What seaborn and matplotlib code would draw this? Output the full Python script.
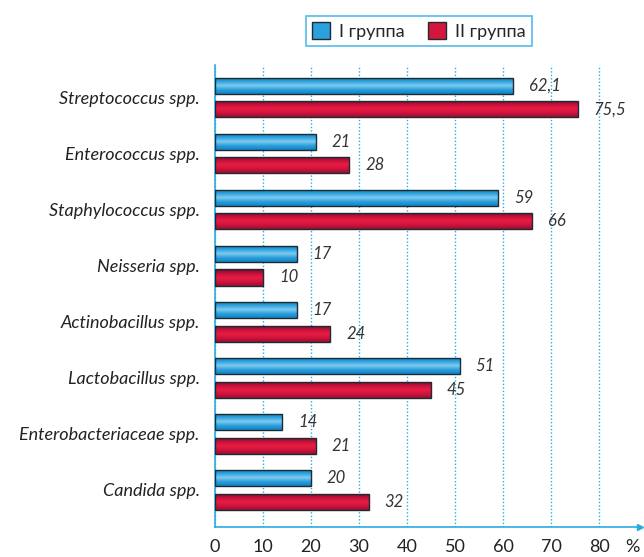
import numpy as np
import pandas as pd
import seaborn as sns
import matplotlib.pyplot as plt
from matplotlib.colors import LinearSegmentedColormap
from matplotlib.patches import Patch

categories = ["Streptococcus spp.", "Enterococcus spp.", "Staphylococcus spp.",
              "Neisseria spp.", "Actinobacillus spp.", "Lactobacillus spp.",
              "Enterobacteriaceae spp.", "Candida spp."]
group1 = [62.1, 21, 59, 17, 17, 51, 14, 20]
group2 = [75.5, 28, 66, 10, 24, 45, 21, 32]
series = ["I группа", "II группа"]
xticks = [0, 10, 20, 30, 40, 50, 60, 70, 80]

sns.set_theme(style="white")
plt.rcParams['font.family'] = ['Lato', 'DejaVu Sans']

df = pd.DataFrame({
    "category": categories * 2,
    "value": group1 + group2,
    "group": [series[0]] * len(categories) + [series[1]] * len(categories),
})

AX_C = "#29abe2"
BLUE = "#2aa0dc"
RED = "#d4163e"

fig = plt.figure(figsize=(6.44, 5.57), dpi=100)
ax = fig.add_axes([215/644, 1-527/557, (640-215)/644, (527-65)/557])

sns.barplot(data=df, y="category", x="value", hue="group", orient="h",
            palette=[BLUE, RED], width=0.84, gap=0.32, edgecolor="#1f2a33",
            linewidth=1.0, ax=ax, legend=False, zorder=3)

# gradient fill
cmaps = [
    LinearSegmentedColormap.from_list("b", ["#0b78bb", "#2ba3e0", "#7fcbef", "#2a9edb", "#1283c6"]),
    LinearSegmentedColormap.from_list("r", ["#6e0c2a", "#c0123a", "#e91c44", "#d0143c", "#9a0f33"]),
]
grad = np.linspace(0, 1, 64).reshape(-1, 1)
for ci, cont in enumerate(ax.containers):
    for p in cont.patches:
        x0, y0 = p.get_x(), p.get_y()
        w, h = p.get_width(), p.get_height()
        im = ax.imshow(grad, cmap=cmaps[ci], aspect="auto", origin="upper",
                       extent=(x0, x0 + w, y0 + h, y0), zorder=3.5,
                       interpolation="bilinear")
        im.set_clip_path(p)
        p.set_facecolor("none")
        p.set_zorder(4)

# value labels
for ci, cont in enumerate(ax.containers):
    vals = [group1, group2][ci]
    for p, v in zip(cont.patches, vals):
        txt = f"{v:g}".replace(".", ",")
        ax.text(p.get_x() + p.get_width() + 3.3, p.get_y() + p.get_height() / 2, txt,
                ha="left", va="center", fontsize=12, style="italic", color="#333333")

ax.set_xlim(0, 88.5)
ax.set_ylim(7.66, -0.58)
ax.set_xticks(xticks)
ax.set_xticklabels([str(t) for t in xticks], fontsize=13, color="#222222")
ax.set_xlabel("")
ax.set_ylabel("")
ax.tick_params(axis="y", length=0, labelsize=13, pad=11)
for lab in ax.get_yticklabels():
    lab.set_style("italic")
    lab.set_color("#222222")
ax.tick_params(axis="x", direction="out", length=4, width=1, color=AX_C, pad=5)

ax.grid(axis="x", linestyle=(0, (1, 1.5)), color=AX_C, linewidth=1.0, zorder=0)
ax.grid(axis="y", visible=False)
ax.set_axisbelow(True)

for s in ["top", "right"]:
    ax.spines[s].set_visible(False)
for s in ["left", "bottom"]:
    ax.spines[s].set_color(AX_C)
    ax.spines[s].set_linewidth(1.2)
ax.plot(1, 0, ">", transform=ax.transAxes, clip_on=False, color=AX_C, markersize=5)
lbl0 = ax.get_xticklabels()[0]
ax.annotate("%", xy=(632/644, 0), xycoords=("figure fraction", lbl0),
            ha="center", va="bottom", fontsize=13, color="#222222")

handles = [Patch(facecolor=BLUE, edgecolor="#1f2a33", linewidth=1.0),
           Patch(facecolor=RED, edgecolor="#1f2a33", linewidth=1.0)]
leg = fig.legend(handles, series, loc="center", bbox_to_anchor=(419/644, 1-31/557),
                 ncol=2, frameon=True, fancybox=False, fontsize=13,
                 handlelength=1.0, handleheight=1.0, handletextpad=0.5,
                 columnspacing=1.3, borderpad=0.35)
leg.get_frame().set_edgecolor(AX_C)
leg.get_frame().set_linewidth(1.2)

fig.savefig("out.png", dpi=100)
